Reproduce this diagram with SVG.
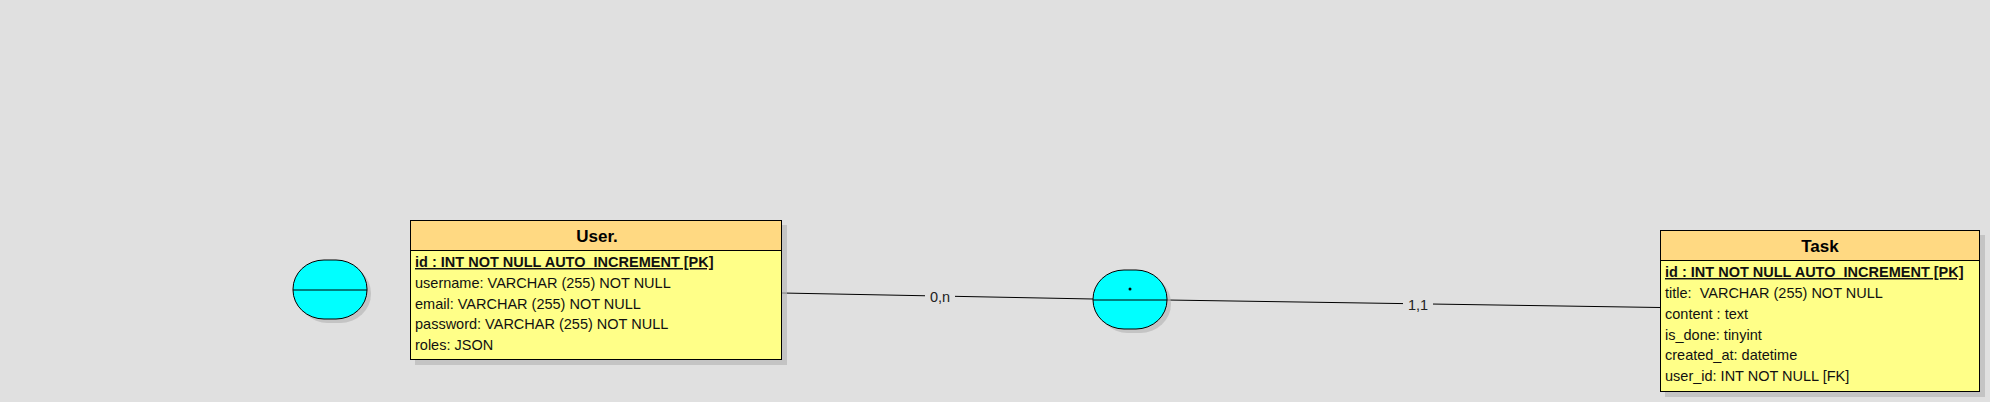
<svg xmlns="http://www.w3.org/2000/svg" width="1990" height="402" viewBox="0 0 1990 402">
<style>
.bg{fill:#e0e0e0}
.shadow{fill:#b8b8b8;opacity:0.7}
.hdr{fill:#ffd982;stroke:#000;stroke-width:1}
.body{fill:#ffff88;stroke:#000;stroke-width:1}
.title{font-family:"Liberation Sans",Arial,sans-serif;font-size:17px;font-weight:bold;fill:#000;text-anchor:middle}
.row{font-family:"Liberation Sans",Arial,sans-serif;font-size:14.5px;fill:#111;white-space:pre}
.pk{font-weight:bold;text-decoration:underline}
.assoc{fill:#00ffff;stroke:#000;stroke-width:1}
.line{stroke:#000;stroke-width:1;fill:none}
.lbl{font-family:"Liberation Sans",Arial,sans-serif;font-size:14.5px;fill:#222;text-anchor:middle}
</style>
<rect class="bg" x="0" y="0" width="1990" height="402"/>
<g id="connectors">
<polyline class="line" points="782,293 1093,299"/>
<rect class="bg" x="925" y="288" width="30" height="16"/>
<text class="lbl" x="940" y="302">0,n</text>
<polyline class="line" points="1167,300 1660,307.5"/>
<rect class="bg" x="1403" y="296" width="30" height="16"/>
<text class="lbl" x="1418" y="310">1,1</text>
</g>
<g id="assoc1">
<rect class="shadow" x="297" y="264" width="74" height="59" rx="31" ry="29"/>
<rect class="assoc" x="293" y="260" width="74" height="59" rx="31" ry="29"/>
<line class="line" x1="293" y1="290" x2="367" y2="290"/>
</g>
<g id="assoc2">
<rect class="shadow" x="1097" y="274" width="74" height="59" rx="31" ry="29"/>
<rect class="assoc" x="1093" y="270" width="74" height="59" rx="31" ry="29"/>
<line class="line" x1="1093" y1="300" x2="1167" y2="300"/>
<circle cx="1130" cy="289" r="1.5" fill="#000"/>
</g>
<g id="user">
<rect class="shadow" x="415" y="225" width="372" height="140"/>
<rect class="hdr" x="410.5" y="220.5" width="371" height="30"/>
<rect class="body" x="410.5" y="250.5" width="371" height="109"/>
<text class="title" x="597" y="242">User.</text>
<text class="row pk" x="415" y="267">id : INT NOT NULL AUTO_INCREMENT [PK]</text>
<text class="row" x="415" y="288">username: VARCHAR (255) NOT NULL</text>
<text class="row" x="415" y="309">email: VARCHAR (255) NOT NULL</text>
<text class="row" x="415" y="329">password: VARCHAR (255) NOT NULL</text>
<text class="row" x="415" y="350">roles: JSON</text>
</g>
<g id="task">
<rect class="shadow" x="1665" y="235" width="320" height="162"/>
<rect class="hdr" x="1660.5" y="230.5" width="319" height="30"/>
<rect class="body" x="1660.5" y="260.5" width="319" height="131"/>
<text class="title" x="1820" y="252">Task</text>
<text class="row pk" x="1665" y="277">id : INT NOT NULL AUTO_INCREMENT [PK]</text>
<text class="row" x="1665" y="298">title:  VARCHAR (255) NOT NULL</text>
<text class="row" x="1665" y="319">content : text</text>
<text class="row" x="1665" y="340">is_done: tinyint</text>
<text class="row" x="1665" y="360">created_at: datetime</text>
<text class="row" x="1665" y="381">user_id: INT NOT NULL [FK]</text>
</g>
</svg>
